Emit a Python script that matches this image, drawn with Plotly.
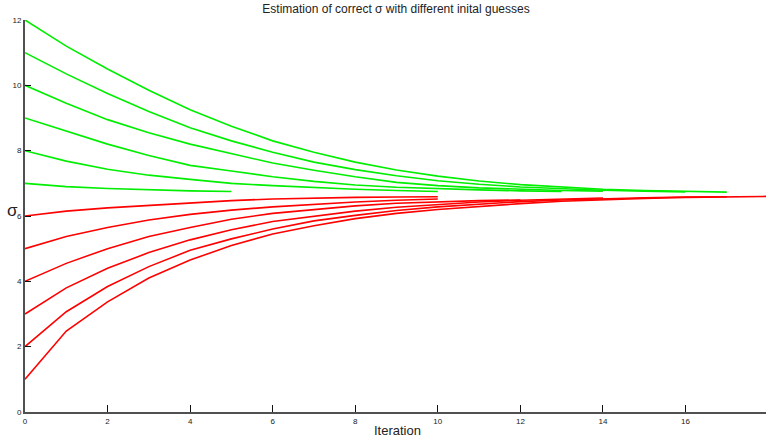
import plotly.graph_objects as go

# Iteration estimates for each initial guess
green_12 = [12, 11.2, 10.5, 9.85, 9.25, 8.75, 8.3, 7.95, 7.65, 7.41, 7.22, 7.07, 6.96, 6.88, 6.82, 6.78, 6.75, 6.73]
green_11 = [11, 10.35, 9.75, 9.2, 8.7, 8.3, 7.95, 7.65, 7.42, 7.23, 7.08, 6.97, 6.89, 6.83, 6.79, 6.76, 6.74]
green_10 = [10, 9.45, 8.95, 8.55, 8.2, 7.9, 7.62, 7.4, 7.2, 7.03, 6.93, 6.86, 6.81, 6.78, 6.76]
green_9 = [9, 8.6, 8.2, 7.85, 7.55, 7.38, 7.2, 7.06, 6.95, 6.88, 6.83, 6.8, 6.77, 6.75]
green_8 = [8, 7.68, 7.43, 7.25, 7.12, 7.0, 6.93, 6.87, 6.82, 6.78, 6.75]
green_7 = [7, 6.9, 6.84, 6.8, 6.77, 6.75]

red_6 = [6, 6.15, 6.25, 6.33, 6.41, 6.47, 6.52, 6.55, 6.57, 6.58, 6.59]
red_5 = [5, 5.37, 5.65, 5.88, 6.05, 6.18, 6.28, 6.36, 6.43, 6.48, 6.52]
red_4 = [4, 4.55, 5.0, 5.37, 5.65, 5.9, 6.08, 6.2, 6.31, 6.39, 6.44, 6.47, 6.49]
red_3 = [3, 3.8, 4.4, 4.88, 5.27, 5.58, 5.83, 6.0, 6.15, 6.27, 6.36, 6.43, 6.48, 6.52, 6.55]
red_2 = [2, 3.07, 3.84, 4.45, 4.95, 5.3, 5.6, 5.85, 6.02, 6.17, 6.28, 6.37, 6.44, 6.49, 6.53, 6.56, 6.58, 6.59]
red_1 = [1, 2.48, 3.37, 4.1, 4.65, 5.1, 5.45, 5.7, 5.92, 6.08, 6.2, 6.3, 6.38, 6.45, 6.5, 6.54, 6.57, 6.59, 6.6]

green_series = [green_12, green_11, green_10, green_9, green_8, green_7]
red_series = [red_6, red_5, red_4, red_3, red_2, red_1]

x_ticks = [0, 2, 4, 6, 8, 10, 12, 14, 16]
y_ticks = [0, 2, 4, 6, 8, 10, 12]

fig = go.Figure()
for s in green_series:
    fig.add_trace(go.Scatter(x=list(range(len(s))), y=s, mode="lines",
                             line=dict(color="#00ee00", width=1.6), showlegend=False,
                             cliponaxis=True))
for s in red_series:
    fig.add_trace(go.Scatter(x=list(range(len(s))), y=s, mode="lines",
                             line=dict(color="#ff0000", width=1.6), showlegend=False,
                             cliponaxis=True))

axis_font = dict(family="Liberation Sans, Arial, sans-serif", size=8, color="#222222")
fig.update_layout(
    width=766, height=441,
    margin=dict(l=25, r=0, t=20, b=29),
    paper_bgcolor="white", plot_bgcolor="white",
    showlegend=False,
    title=dict(text="Estimation of correct σ with different inital guesses",
               x=0.517, xanchor="center", y=1 - 9 / 441, yanchor="middle",
               font=dict(family="Liberation Sans, Arial, sans-serif", size=12, color="#222222")),
    xaxis=dict(range=[0, 17.95], tickvals=x_ticks, ticks="inside", ticklen=7,
               tickcolor="#111111", tickwidth=1, showgrid=False, zeroline=False,
               showline=True, linecolor="#505050", linewidth=2,
               tickfont=axis_font),
    yaxis=dict(range=[0, 12], tickvals=y_ticks, ticks="inside", ticklen=6,
               tickcolor="#111111", tickwidth=1, showgrid=False, zeroline=False,
               showline=True, linecolor="#505050", linewidth=2,
               tickfont=axis_font),
    annotations=[
        dict(text="Iteration", xref="paper", yref="paper", x=(397 - 25) / 741,
             y=(412 - 430) / 392, xanchor="center", yanchor="middle", showarrow=False,
             font=dict(family="Liberation Sans, Arial, sans-serif", size=13, color="#222222")),
        dict(text="σ", xref="paper", yref="paper", x=(12 - 25) / 741,
             y=(412 - 210) / 392, xanchor="center", yanchor="middle", showarrow=False,
             font=dict(family="Liberation Sans, Arial, sans-serif", size=17, color="#222222")),
    ],
)

fig.write_html("out.html")
